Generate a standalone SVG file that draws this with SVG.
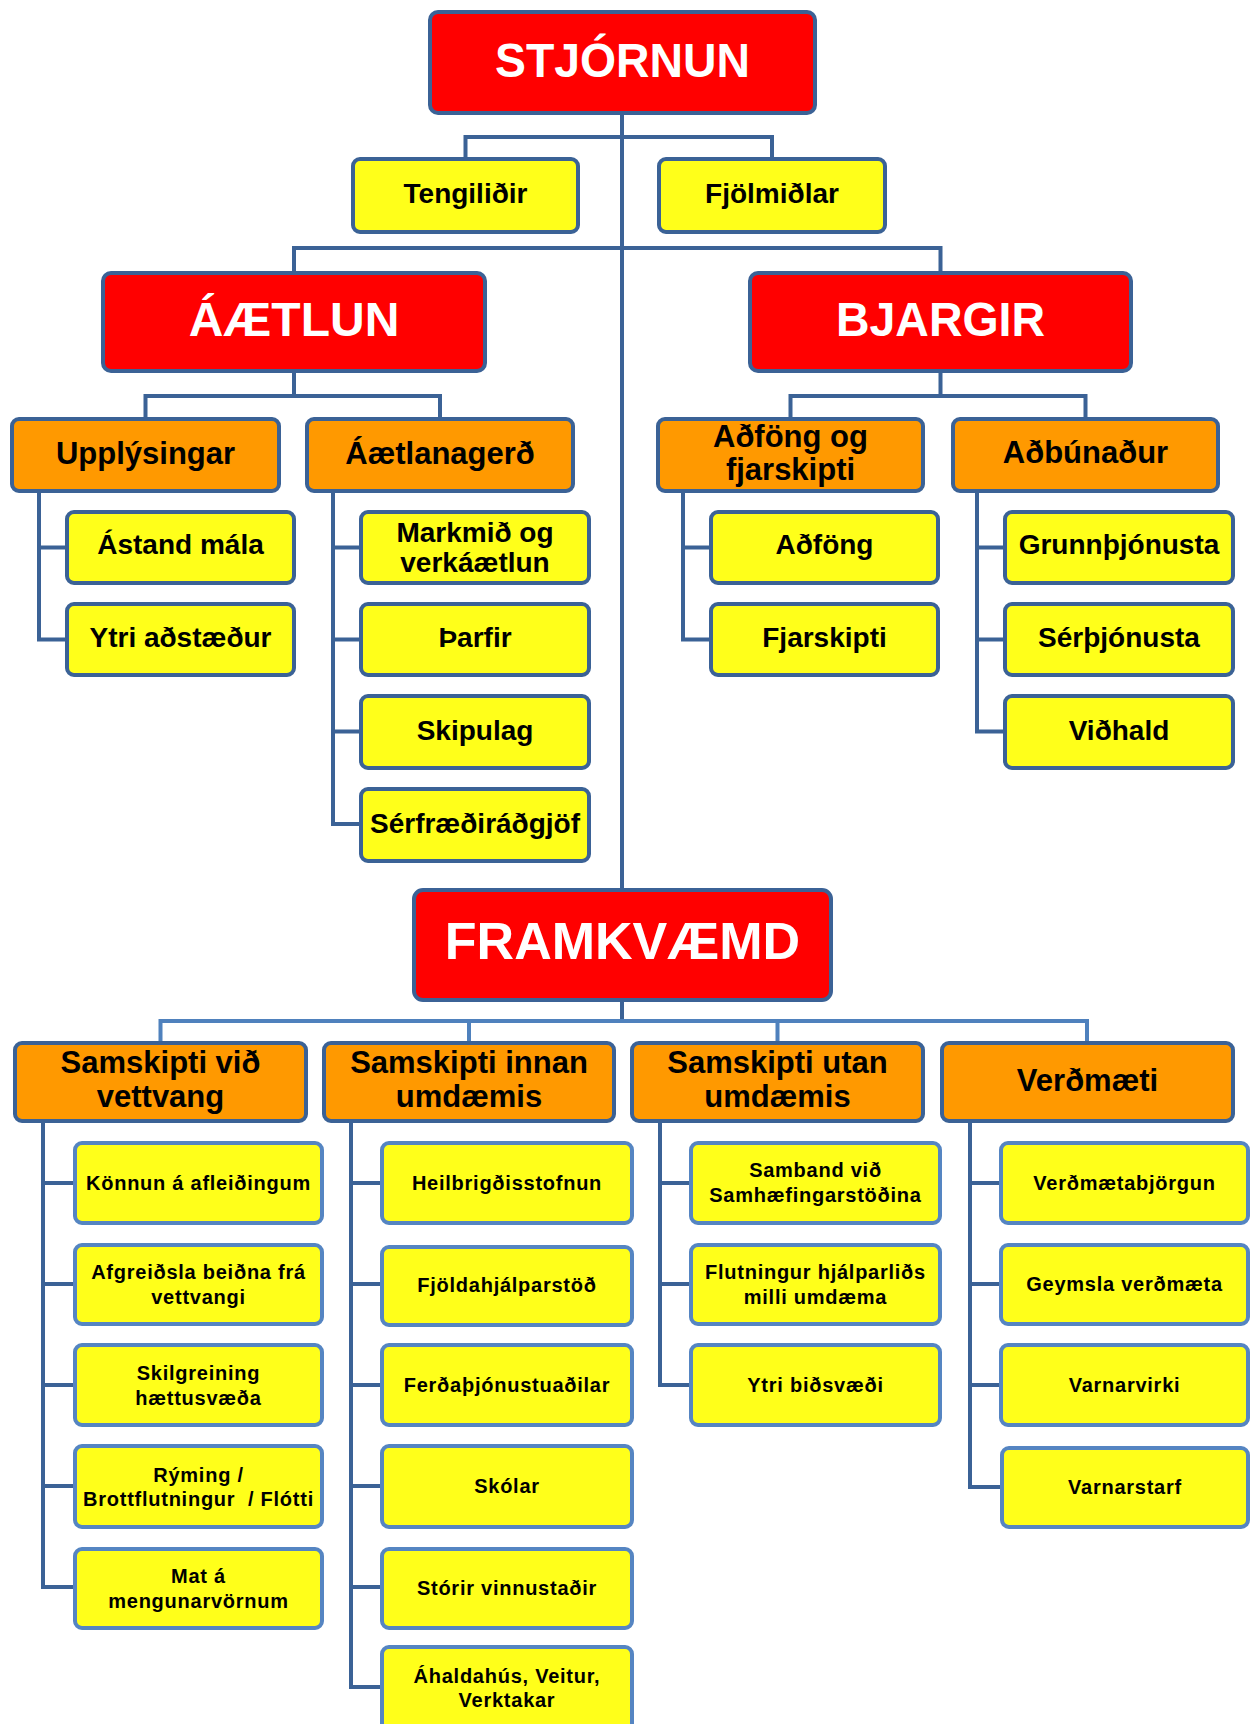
<svg xmlns="http://www.w3.org/2000/svg" width="1251" height="1724" viewBox="0 0 1251 1724">
<style>
text{font-family:"Liberation Sans",Arial,sans-serif;font-weight:bold;text-anchor:middle;fill:#000}
.red{fill:#FF0000;stroke:#3B6296;stroke-width:4}
.org{fill:#FF9900;stroke:#3B6296;stroke-width:4}
.yel{fill:#FFFF1A;stroke:#3B6296;stroke-width:4}
.yl{fill:#FFFF1A;stroke:#5585C2;stroke-width:4}
.tr{fill:#fff;font-size:48px}
.to{font-size:31px}
.ty{font-size:28px}
.ts{font-size:20px;letter-spacing:0.75px}
.c{fill:none;stroke:#3B6296;stroke-width:4}
.cl{fill:none;stroke:#4F81BD;stroke-width:4}
</style>
<g id="connectors">
<path class="c" d="M622,115V890"/>
<path class="c" d="M465.5,159V137H772V159"/>
<path class="c" d="M294,273V248H940.5V273"/>
<path class="c" d="M294,371V396M145.5,419V396H440V419"/>
<path class="c" d="M940.5,371V396M790.5,419V396H1085.5V419"/>
<path class="c" d="M39,491V639.5H67M39,547.5H67"/>
<path class="c" d="M333,491V824H361M333,547.5H361M333,639.5H361M333,731.5H361"/>
<path class="c" d="M683,491V639.5H711M683,547.5H711"/>
<path class="c" d="M977,491V731.5H1005M977,547.5H1005M977,639.5H1005"/>
<path class="c" d="M622,1000V1021"/>
<path class="cl" d="M160.5,1043V1021H1087V1043M469,1021V1043M777.5,1021V1043"/>
<path class="c" d="M43,1121V1587H75M43,1183H75M43,1284H75M43,1385H75M43,1486H75"/>
<path class="c" d="M351,1121V1687H382M351,1183H382M351,1284H382M351,1385H382M351,1486H382M351,1587H382"/>
<path class="c" d="M660,1121V1385H691M660,1183H691M660,1284H691"/>
<path class="c" d="M970,1121V1487H1001M970,1183H1001M970,1284H1001M970,1385H1001"/>
</g>
<g id="stjornun"><rect class="red" x="430" y="12" width="385" height="101" rx="8"/><text class="tr" x="622.5" y="77" textLength="255" lengthAdjust="spacingAndGlyphs">STJÓRNUN</text></g>
<g id="tengilidir"><rect class="yel" x="353" y="159" width="225" height="73" rx="7"/><text class="ty" x="465.5" y="203">Tengiliðir</text></g>
<g id="fjolmidlar"><rect class="yel" x="659" y="159" width="226" height="73" rx="7"/><text class="ty" x="772" y="203">Fjölmiðlar</text></g>
<g id="aaetlun"><rect class="red" x="103" y="273" width="382" height="98" rx="8"/><text class="tr" x="294" y="336">ÁÆTLUN</text></g>
<g id="bjargir"><rect class="red" x="750" y="273" width="381" height="98" rx="8"/><text class="tr" x="940.5" y="336" textLength="209" lengthAdjust="spacingAndGlyphs">BJARGIR</text></g>
<g id="upplysingar"><rect class="org" x="12" y="419" width="267" height="72" rx="7"/><text class="to" x="145.5" y="464">Upplýsingar</text></g>
<g id="aetlanagerd"><rect class="org" x="307" y="419" width="266" height="72" rx="7"/><text class="to" x="440" y="464">Áætlanagerð</text></g>
<g id="adfong-fjarskipti"><rect class="org" x="658" y="419" width="265" height="72" rx="7"/><text class="to" x="790.5" y="447">Aðföng og</text><text class="to" x="790.5" y="480">fjarskipti</text></g>
<g id="adbunadur"><rect class="org" x="953" y="419" width="265" height="72" rx="7"/><text class="to" x="1085.5" y="463">Aðbúnaður</text></g>
<g id="astand"><rect class="yel" x="67" y="512" width="227" height="71" rx="7"/><text class="ty" x="180.5" y="554">Ástand mála</text></g>
<g id="ytri-adstaedur"><rect class="yel" x="67" y="604" width="227" height="71" rx="7"/><text class="ty" x="180.5" y="647">Ytri aðstæður</text></g>
<g id="markmid"><rect class="yel" x="361" y="512" width="228" height="71" rx="7"/><text class="ty" x="475" y="542">Markmið og</text><text class="ty" x="475" y="572">verkáætlun</text></g>
<g id="tharfir"><rect class="yel" x="361" y="604" width="228" height="71" rx="7"/><text class="ty" x="475" y="647">Þarfir</text></g>
<g id="skipulag"><rect class="yel" x="361" y="696" width="228" height="72" rx="7"/><text class="ty" x="475" y="740">Skipulag</text></g>
<g id="serfraedi"><rect class="yel" x="361" y="789" width="228" height="72" rx="7"/><text class="ty" x="475" y="833">Sérfræðiráðgjöf</text></g>
<g id="adfong"><rect class="yel" x="711" y="512" width="227" height="71" rx="7"/><text class="ty" x="824.5" y="554">Aðföng</text></g>
<g id="fjarskipti"><rect class="yel" x="711" y="604" width="227" height="71" rx="7"/><text class="ty" x="824.5" y="647">Fjarskipti</text></g>
<g id="grunnthjonusta"><rect class="yel" x="1005" y="512" width="228" height="71" rx="7"/><text class="ty" x="1119" y="554">Grunnþjónusta</text></g>
<g id="serthjonusta"><rect class="yel" x="1005" y="604" width="228" height="71" rx="7"/><text class="ty" x="1119" y="647">Sérþjónusta</text></g>
<g id="vidhald"><rect class="yel" x="1005" y="696" width="228" height="72" rx="7"/><text class="ty" x="1119" y="740">Viðhald</text></g>
<g id="framkvaemd"><rect class="red" x="414" y="890" width="417" height="110" rx="9"/><text class="tr" x="622.5" y="959" style="font-size:52px">FRAMKVÆMD</text></g>
<g id="samskipti-vid"><rect class="org" x="15" y="1043" width="291" height="78" rx="7"/><text class="to" x="160.5" y="1073">Samskipti við</text><text class="to" x="160.5" y="1107">vettvang</text></g>
<g id="samskipti-innan"><rect class="org" x="324" y="1043" width="290" height="78" rx="7"/><text class="to" x="469" y="1073">Samskipti innan</text><text class="to" x="469" y="1107">umdæmis</text></g>
<g id="samskipti-utan"><rect class="org" x="632" y="1043" width="291" height="78" rx="7"/><text class="to" x="777.5" y="1073">Samskipti utan</text><text class="to" x="777.5" y="1107">umdæmis</text></g>
<g id="verdmaeti"><rect class="org" x="942" y="1043" width="291" height="78" rx="7"/><text class="to" x="1087.5" y="1091">Verðmæti</text></g>
<g id="konnun"><rect class="yl" x="75" y="1143" width="247" height="80" rx="7"/><text class="ts" x="198.5" y="1190">Könnun á afleiðingum</text></g>
<g id="afgreidsla"><rect class="yl" x="75" y="1245" width="247" height="79" rx="7"/><text class="ts" x="198.5" y="1279">Afgreiðsla beiðna frá</text><text class="ts" x="198.5" y="1304">vettvangi</text></g>
<g id="skilgreining"><rect class="yl" x="75" y="1345" width="247" height="80" rx="7"/><text class="ts" x="198.5" y="1380">Skilgreining</text><text class="ts" x="198.5" y="1405">hættusvæða</text></g>
<g id="ryming"><rect class="yl" x="75" y="1446" width="247" height="81" rx="7"/><text class="ts" x="198.5" y="1482" style="white-space:pre">Rýming /</text><text class="ts" x="198.5" y="1506" style="white-space:pre">Brottflutningur  / Flótti</text></g>
<g id="mat"><rect class="yl" x="75" y="1549" width="247" height="79" rx="7"/><text class="ts" x="198.5" y="1583">Mat á</text><text class="ts" x="198.5" y="1608">mengunarvörnum</text></g>
<g id="heilbrigdis"><rect class="yl" x="382" y="1143" width="250" height="80" rx="7"/><text class="ts" x="507" y="1190">Heilbrigðisstofnun</text></g>
<g id="fjoldahjalp"><rect class="yl" x="382" y="1247" width="250" height="78" rx="7"/><text class="ts" x="507" y="1292">Fjöldahjálparstöð</text></g>
<g id="ferdathjonusta"><rect class="yl" x="382" y="1345" width="250" height="80" rx="7"/><text class="ts" x="507" y="1392">Ferðaþjónustuaðilar</text></g>
<g id="skolar"><rect class="yl" x="382" y="1446" width="250" height="81" rx="7"/><text class="ts" x="507" y="1493">Skólar</text></g>
<g id="storir"><rect class="yl" x="382" y="1549" width="250" height="79" rx="7"/><text class="ts" x="507" y="1595">Stórir vinnustaðir</text></g>
<g id="ahaldahus"><rect class="yl" x="382" y="1647" width="250" height="84" rx="7"/><text class="ts" x="507" y="1683">Áhaldahús, Veitur,</text><text class="ts" x="507" y="1707">Verktakar</text></g>
<g id="samband"><rect class="yl" x="691" y="1143" width="249" height="80" rx="7"/><text class="ts" x="815.5" y="1177">Samband við</text><text class="ts" x="815.5" y="1202">Samhæfingarstöðina</text></g>
<g id="flutningur"><rect class="yl" x="691" y="1245" width="249" height="79" rx="7"/><text class="ts" x="815.5" y="1279">Flutningur hjálparliðs</text><text class="ts" x="815.5" y="1304">milli umdæma</text></g>
<g id="ytri-bidsvaedi"><rect class="yl" x="691" y="1345" width="249" height="80" rx="7"/><text class="ts" x="815.5" y="1392">Ytri biðsvæði</text></g>
<g id="verdmaetabjorgun"><rect class="yl" x="1001" y="1143" width="247" height="80" rx="7"/><text class="ts" x="1124.5" y="1190">Verðmætabjörgun</text></g>
<g id="geymsla"><rect class="yl" x="1001" y="1245" width="247" height="79" rx="7"/><text class="ts" x="1124.5" y="1291">Geymsla verðmæta</text></g>
<g id="varnarvirki"><rect class="yl" x="1001" y="1345" width="247" height="80" rx="7"/><text class="ts" x="1124.5" y="1392">Varnarvirki</text></g>
<g id="varnarstarf"><rect class="yl" x="1002" y="1448" width="246" height="79" rx="7"/><text class="ts" x="1125" y="1494">Varnarstarf</text></g>
</svg>
